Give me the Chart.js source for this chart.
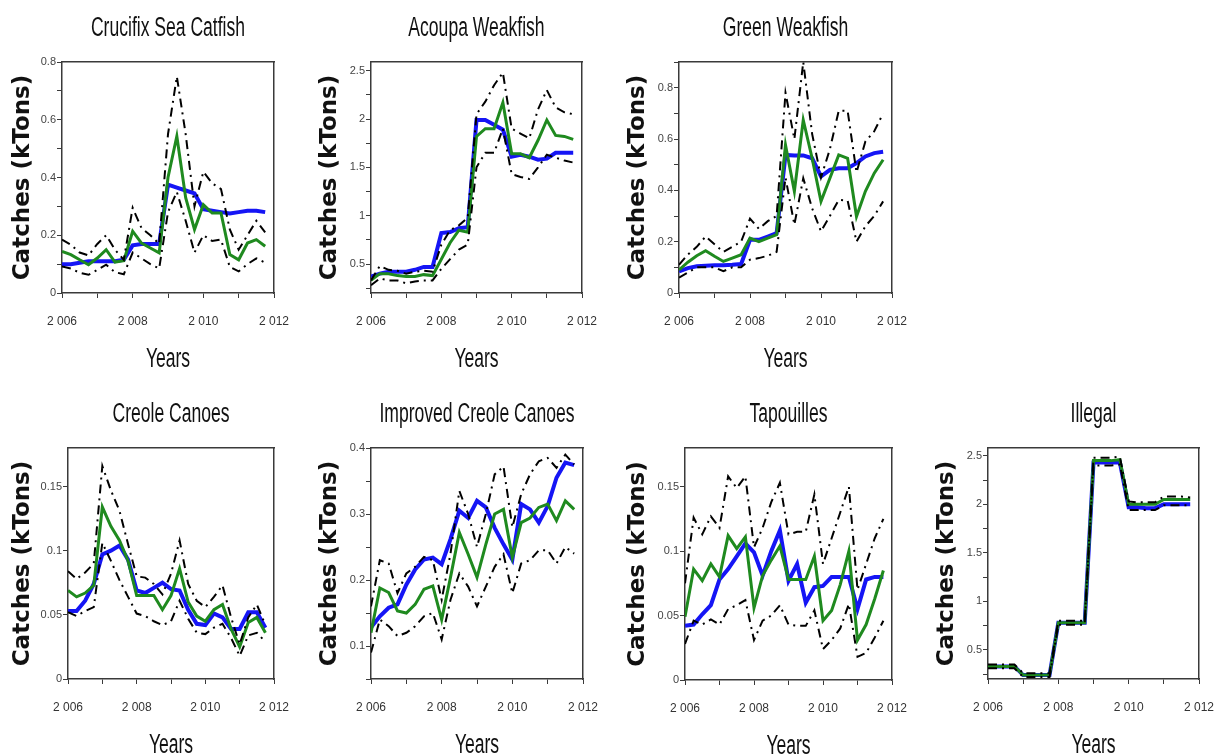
<!DOCTYPE html>
<html>
<head>
<meta charset="utf-8">
<script src="https://cdn.jsdelivr.net/npm/chart.js@4.4.1/dist/chart.umd.min.js"></script>
<style>
html,body{margin:0;padding:0;background:#fff;overflow:hidden;width:1214px;height:756px;}
.p{position:absolute;}
canvas{display:block;}
</style>
</head>
<body>
<script>
// ---------- categories ----------
const quarters = [2006,2006.25,2006.5,2006.75,2007,2007.25,2007.5,2007.75,2008,2008.25,2008.5,2008.75,
                  2009,2009.25,2009.5,2009.75,2010,2010.25,2010.5,2010.75,2011,2011.25,2011.5,2011.75];
const yearTicks  = [2006,2007,2008,2009,2010,2011,2012];
const yearLabels = ['2 006','','2 008','','2 010','','2 012'];
const xAxisTitle = 'Years';
const yAxisTitle = 'Catches (kTons)';

// ---------- Crucifix Sea Catfish ----------
const catfishFit = [0.10,0.10,0.105,0.11,0.11,0.11,0.11,0.115,0.165,0.17,0.17,0.17,0.375,0.365,0.355,0.345,0.29,0.285,0.28,0.275,0.28,0.285,0.285,0.28];
const catfishObs = [0.144,0.133,0.115,0.098,0.121,0.15,0.107,0.112,0.214,0.173,0.156,0.139,0.40,0.543,0.33,0.22,0.306,0.277,0.277,0.133,0.115,0.173,0.185,0.162];
const catfishHi  = [0.185,0.167,0.14,0.13,0.17,0.2,0.15,0.115,0.295,0.225,0.2,0.17,0.55,0.75,0.55,0.3,0.42,0.38,0.36,0.22,0.15,0.2,0.25,0.21];
const catfishLo  = [0.092,0.085,0.07,0.063,0.08,0.098,0.072,0.065,0.14,0.12,0.1,0.085,0.28,0.35,0.25,0.14,0.2,0.18,0.185,0.09,0.075,0.1,0.12,0.105];
const catfishYTicks  = [0,0.2,0.4,0.6,0.8];
const catfishYLabels = ['0','0.2','0.4','0.6','0.8'];

// ---------- Acoupa Weakfish ----------
const acoupaFit = [0.37,0.40,0.42,0.42,0.42,0.44,0.47,0.47,0.82,0.83,0.87,0.88,1.99,1.99,1.94,1.89,1.61,1.63,1.61,1.58,1.59,1.65,1.65,1.65];
const acoupaObs = [0.33,0.40,0.40,0.38,0.37,0.37,0.39,0.38,0.55,0.72,0.85,0.83,1.82,1.90,1.90,2.17,1.64,1.64,1.60,1.78,1.99,1.83,1.82,1.79];
const acoupaHi  = [0.33,0.48,0.44,0.43,0.40,0.42,0.43,0.42,0.70,0.85,0.90,0.98,2.05,2.18,2.35,2.48,1.90,1.85,1.80,2.10,2.30,2.12,2.07,2.05];
const acoupaLo  = [0.28,0.35,0.33,0.33,0.30,0.32,0.33,0.33,0.45,0.55,0.65,0.70,1.50,1.65,1.65,1.90,1.43,1.40,1.38,1.50,1.63,1.60,1.57,1.55];
const acoupaYTicks  = [0.5,1,1.5,2,2.5];
const acoupaYLabels = ['0.5','1','1.5','2','2.5'];

// ---------- Green Weakfish ----------
const greenFit = [0.084,0.097,0.104,0.106,0.108,0.108,0.11,0.113,0.207,0.207,0.22,0.233,0.538,0.536,0.536,0.525,0.454,0.48,0.486,0.486,0.506,0.532,0.545,0.55];
const greenObs = [0.09,0.12,0.145,0.165,0.143,0.123,0.136,0.149,0.214,0.2,0.214,0.227,0.577,0.396,0.674,0.525,0.357,0.447,0.538,0.525,0.298,0.396,0.467,0.519];
const greenHi  = [0.11,0.15,0.18,0.22,0.19,0.16,0.18,0.2,0.29,0.25,0.28,0.3,0.78,0.6,0.9,0.62,0.45,0.56,0.71,0.71,0.47,0.59,0.63,0.70];
const greenLo  = [0.06,0.08,0.1,0.1,0.1,0.085,0.1,0.1,0.13,0.136,0.145,0.16,0.45,0.266,0.447,0.33,0.24,0.3,0.363,0.36,0.2,0.26,0.3,0.357];
const greenYTicks  = [0,0.2,0.4,0.6,0.8];
const greenYLabels = ['0','0.2','0.4','0.6','0.8'];

// ---------- Creole Canoes ----------
const creoleFit = [0.053,0.053,0.061,0.074,0.097,0.10,0.104,0.093,0.069,0.067,0.071,0.075,0.07,0.069,0.054,0.043,0.042,0.051,0.048,0.039,0.039,0.052,0.052,0.04];
const creoleObs = [0.069,0.064,0.067,0.073,0.134,0.119,0.108,0.092,0.065,0.065,0.065,0.054,0.065,0.086,0.06,0.049,0.045,0.054,0.058,0.039,0.025,0.044,0.048,0.036];
const creoleHi  = [0.084,0.078,0.083,0.09,0.166,0.147,0.131,0.105,0.08,0.079,0.074,0.066,0.082,0.108,0.074,0.061,0.056,0.064,0.073,0.048,0.027,0.048,0.058,0.042];
const creoleLo  = [0.052,0.049,0.053,0.056,0.106,0.092,0.077,0.064,0.051,0.049,0.045,0.042,0.045,0.061,0.047,0.036,0.035,0.04,0.043,0.032,0.018,0.034,0.036,0.029];
const creoleYTicks  = [0,0.05,0.1,0.15];
const creoleYLabels = ['0','0.05','0.1','0.15'];

// ---------- Improved Creole Canoes ----------
const improvedFit = [0.128,0.145,0.158,0.163,0.193,0.216,0.231,0.234,0.224,0.262,0.305,0.294,0.32,0.31,0.279,0.254,0.231,0.315,0.307,0.287,0.312,0.355,0.378,0.374];
const improvedObs = [0.12,0.188,0.181,0.153,0.15,0.163,0.186,0.191,0.14,0.204,0.272,0.239,0.204,0.254,0.30,0.307,0.234,0.287,0.294,0.31,0.315,0.29,0.32,0.307];
const improvedHi  = [0.16,0.23,0.225,0.18,0.21,0.22,0.235,0.23,0.17,0.24,0.335,0.30,0.25,0.30,0.36,0.372,0.28,0.33,0.36,0.38,0.385,0.37,0.39,0.375];
const improvedLo  = [0.09,0.14,0.13,0.115,0.12,0.13,0.145,0.15,0.11,0.17,0.21,0.19,0.16,0.19,0.22,0.239,0.18,0.225,0.23,0.245,0.245,0.225,0.25,0.24];
const improvedYTicks  = [0.1,0.2,0.3,0.4];
const improvedYLabels = ['0.1','0.2','0.3','0.4'];

// ---------- Tapouilles ----------
const tapFit = [0.042,0.043,0.051,0.058,0.078,0.086,0.096,0.106,0.099,0.081,0.10,0.116,0.077,0.09,0.06,0.072,0.073,0.08,0.08,0.08,0.055,0.078,0.08,0.08];
const tapObs = [0.049,0.086,0.077,0.09,0.08,0.112,0.102,0.111,0.056,0.081,0.093,0.104,0.078,0.078,0.078,0.096,0.046,0.054,0.074,0.10,0.031,0.043,0.063,0.085];
const tapHi  = [0.075,0.126,0.113,0.127,0.118,0.158,0.149,0.158,0.103,0.118,0.138,0.153,0.113,0.115,0.115,0.144,0.09,0.11,0.13,0.15,0.07,0.09,0.11,0.125];
const tapLo  = [0.028,0.046,0.043,0.047,0.043,0.055,0.058,0.062,0.031,0.046,0.05,0.058,0.043,0.042,0.042,0.054,0.024,0.031,0.04,0.059,0.018,0.021,0.033,0.046];
const tapYTicks  = [0,0.05,0.1,0.15];
const tapYLabels = ['0','0.05','0.1','0.15'];

// ---------- Illegal ----------
const illegalFit = [0.33,0.33,0.33,0.33,0.24,0.24,0.24,0.24,0.78,0.78,0.78,0.78,2.43,2.43,2.43,2.43,1.97,1.97,1.96,1.96,2.0,2.0,2.0,2.0];
const illegalObs = [0.33,0.33,0.33,0.33,0.24,0.24,0.24,0.24,0.78,0.78,0.78,0.78,2.45,2.45,2.45,2.46,2.0,2.0,2.0,2.0,2.05,2.05,2.05,2.05];
const illegalHi  = [0.35,0.35,0.35,0.35,0.26,0.26,0.26,0.26,0.80,0.80,0.80,0.80,2.48,2.48,2.48,2.49,2.03,2.02,2.02,2.02,2.08,2.08,2.08,2.07];
const illegalLo  = [0.31,0.31,0.31,0.31,0.22,0.22,0.22,0.22,0.76,0.76,0.76,0.76,2.40,2.40,2.40,2.41,1.94,1.94,1.94,1.94,1.99,1.99,1.99,1.99];
const illegalYTicks  = [0.5,1,1.5,2,2.5];
const illegalYLabels = ['0.5','1','1.5','2','2.5'];

// ---------- panel layout (positions / styles, not data) ----------
const panels = [
  {title:'Crucifix Sea Catfish',   fit:catfishFit,  obs:catfishObs,  hi:catfishHi,  lo:catfishLo,  yMin:0,    yMax:0.8,  yTicks:catfishYTicks,  yLabels:catfishYLabels,  minor:0.1,  box:[62,62,212,231],  gap:39},
  {title:'Acoupa Weakfish',        fit:acoupaFit,   obs:acoupaObs,   hi:acoupaHi,   lo:acoupaLo,   yMin:0.2,  yMax:2.59, yTicks:acoupaYTicks,   yLabels:acoupaYLabels,   minor:0.25, box:[371,62,211,231], gap:41},
  {title:'Green Weakfish',         fit:greenFit,    obs:greenObs,    hi:greenHi,    lo:greenLo,    yMin:0,    yMax:0.9,  yTicks:greenYTicks,    yLabels:greenYLabels,    minor:0.1,  box:[679,62,213,231], gap:41},
  {title:'Creole Canoes',          fit:creoleFit,   obs:creoleObs,   hi:creoleHi,   lo:creoleLo,   yMin:0,    yMax:0.18, yTicks:creoleYTicks,   yLabels:creoleYLabels,   minor:0.05, box:[68,448,206,231], gap:45},
  {title:'Improved Creole Canoes', fit:improvedFit, obs:improvedObs, hi:improvedHi, lo:improvedLo, yMin:0.05, yMax:0.4,  yTicks:improvedYTicks, yLabels:improvedYLabels, minor:0.05, box:[371,448,212,231],gap:41},
  {title:'Tapouilles',             fit:tapFit,      obs:tapObs,      hi:tapHi,      lo:tapLo,      yMin:0,    yMax:0.18, yTicks:tapYTicks,      yLabels:tapYLabels,      minor:0.05, box:[685,448,207,232],gap:47},
  {title:'Illegal',                fit:illegalFit,  obs:illegalObs,  hi:illegalHi,  lo:illegalLo,  yMin:0.2,  yMax:2.58, yTicks:illegalYTicks,  yLabels:illegalYLabels,  minor:0.25, box:[988,448,211,231],gap:41}
];

const SANS = "'Liberation Sans', Arial, sans-serif";
Chart.defaults.font.family = SANS;
Chart.defaults.animation = false;

const BLUE = '#1515f5', GREEN = '#1f8a1f', AXIS = '#3a3a3a';
const PAD_L = 62, PAD_R = 38, PAD_T = 62, PAD_B = 80;
const SQUEEZE = 0.65;   // the reference uses tall condensed lettering

// draws panel title and the x-axis title as condensed text, centred on the plot area
const condensedTitles = {
  id:'condensedTitles',
  afterDraw(chart, args, opts){
    const ca = chart.chartArea, ctx = chart.ctx;
    const cx = (ca.left + ca.right) / 2;
    const put = (text, y) => {
      ctx.save();
      ctx.translate(cx, y);
      ctx.scale(SQUEEZE, 1);
      ctx.font = '27px ' + SANS;
      ctx.fillStyle = '#111';
      ctx.textAlign = 'center';
      ctx.textBaseline = 'middle';
      ctx.fillText(text, 0, 0);
      ctx.restore();
    };
    put(opts.title, ca.top - 33);
    put(opts.xTitle, ca.bottom + 67);
  }
};

function toXY(arr){ return quarters.map((x,i)=>({x:x, y:arr[i]})); }

function makePanel(p){
  const [L,T,W,H] = p.box;
  const cw = W + PAD_L + PAD_R, ch = H + PAD_T + PAD_B;
  const wrap = document.createElement('div');
  wrap.className = 'p';
  wrap.style.left = (L - PAD_L) + 'px';
  wrap.style.top = (T - PAD_T) + 'px';
  wrap.style.width = cw + 'px';
  wrap.style.height = ch + 'px';
  const c = document.createElement('canvas');
  c.width = cw; c.height = ch;
  c.style.width = cw + 'px'; c.style.height = ch + 'px';
  wrap.appendChild(c);
  document.body.appendChild(wrap);

  const dash = {borderColor:'#000', borderWidth:2, borderDash:[9,5,2,5], pointRadius:0, tension:0, fill:false};
  new Chart(c, {
    type:'line',
    data:{datasets:[
      Object.assign({label:'Upper', data:toXY(p.hi)}, dash),
      Object.assign({label:'Lower', data:toXY(p.lo)}, dash),
      {label:'Observed', data:toXY(p.obs), borderColor:GREEN, borderWidth:3, pointRadius:0, tension:0, fill:false},
      {label:'Model', data:toXY(p.fit), borderColor:BLUE, borderWidth:4, pointRadius:0, tension:0, fill:false}
    ]},
    plugins:[condensedTitles],
    options:{
      responsive:false, animation:false,
      layout:{padding:0},
      plugins:{legend:{display:false}, tooltip:{enabled:false}, title:{display:false},
               condensedTitles:{title:p.title, xTitle:xAxisTitle}},
      scales:{
        x:{type:'linear', position:'bottom', min:2006, max:2012,
           afterFit:s=>{ s.height = PAD_B; },
           afterBuildTicks:s=>{ s.ticks = yearTicks.map(v=>({value:v})); },
           grid:{display:true, drawOnChartArea:false, drawTicks:true, tickLength:5, color:AXIS, lineWidth:1},
           border:{display:true, color:AXIS, width:1.5},
           ticks:{padding:16, color:'#333', font:{size:12}, maxRotation:0, autoSkip:false,
                  callback:(v)=>{ const i = yearTicks.indexOf(v); return i>=0 ? yearLabels[i] : ''; }},
           title:{display:false}
        },
        xTop:{type:'linear', position:'top', min:2006, max:2012,
           afterFit:s=>{ s.height = PAD_T; },
           grid:{display:false}, ticks:{display:false},
           border:{display:true, color:AXIS, width:1.5}
        },
        y:{type:'linear', position:'left', min:p.yMin, max:p.yMax,
           afterFit:s=>{ s.width = PAD_L; },
           afterBuildTicks:s=>{
             const vals = [];
             const start = Math.ceil((p.yMin - 1e-9)/p.minor);
             for(let k=start; k*p.minor <= p.yMax + 1e-9; k++){ vals.push(+(k*p.minor).toFixed(6)); }
             p.yTicks.forEach(v=>{ if(!vals.some(u=>Math.abs(u-v)<1e-9)) vals.push(v); });
             vals.sort((a,b)=>a-b);
             s.ticks = vals.map(v=>({value:v}));
           },
           grid:{display:true, drawOnChartArea:false, drawTicks:true, tickLength:5, color:AXIS, lineWidth:1},
           border:{display:true, color:AXIS, width:1.5},
           ticks:{padding:1, color:'#444', font:{size:11}, autoSkip:false,
                  callback:(v)=>{ const i = p.yTicks.findIndex(t=>Math.abs(t-v)<1e-9); return i>=0 ? p.yLabels[i] : ''; }},
           title:{display:true, text:yAxisTitle, color:'#111',
                  font:{family:'DejaVu Sans', weight:'bold', size:23},
                  padding:{top: PAD_L - p.gap - 13.8, bottom:0}}
        },
        yRight:{type:'linear', position:'right', min:0, max:1,
           afterFit:s=>{ s.width = PAD_R; },
           grid:{display:false}, ticks:{display:false},
           border:{display:true, color:AXIS, width:1.5}
        }
      }
    }
  });
}

panels.forEach(makePanel);
</script>
</body>
</html>
